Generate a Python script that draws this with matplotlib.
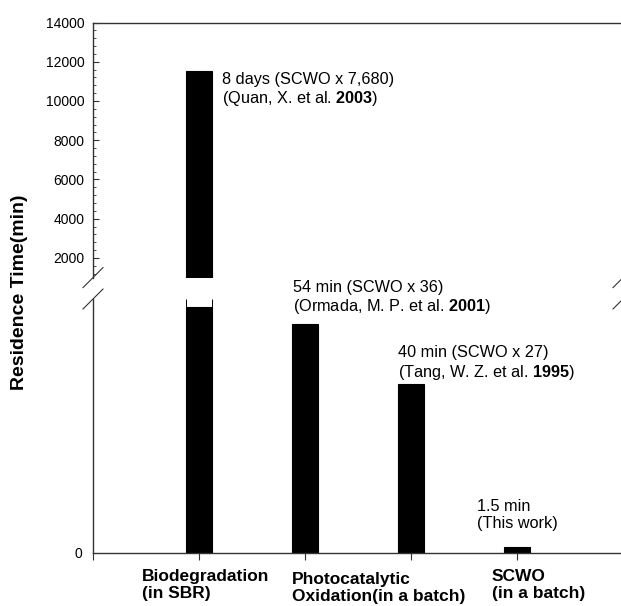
import matplotlib
matplotlib.use('Agg')
import matplotlib.pyplot as plt
import numpy as np

plt.rcParams['font.family'] = ['Liberation Sans', 'DejaVu Sans']
plt.rcParams['mathtext.fontset'] = 'custom'
plt.rcParams['mathtext.rm'] = 'Liberation Sans'
plt.rcParams['mathtext.bf'] = 'Liberation Sans:bold'

# data (residence time, min)
bar_pos = [1, 2, 3, 4]
times = [11520, 54, 40, 1.5]
notes = ['8 days (SCWO x 7,680)\n(Quan, X. et al. $\\mathbf{2003}$)',
         '54 min (SCWO x 36)\n(Ormada, M. P. et al. $\\mathbf{2001}$)',
         '40 min (SCWO x 27)\n(Tang, W. Z. et al. $\\mathbf{1995}$)',
         '1.5 min\n(This work)']
methods = ['Biodegradation\n(in SBR)', 'Photocatalytic\nOxidation(in a batch)', 'SCWO\n(in a batch)']

# layout stuff
method_x = [0.462, 1.877, 3.764]
method_dy = [-16, -19, -16]
note_va = ['top', 'bottom', 'bottom', 'bottom']
note_off = [(10, -1), (1, 8), (0, 2), (-27, 16)]
note_anchor = [1.125, 0.875, 0.875, 0.875]  # offset from bar centre (x units)

W, H = 621, 606
bw = 0.25
lo_top = 60
hi_lim = (1000, 14000)
spc = '#333333'

fig = plt.figure(figsize=(W/100, H/100), dpi=100)
ax_hi = fig.add_axes([93/W, 1-277.6/H, 530/W, (277.6-22.5)/H])
ax_lo = fig.add_axes([93/W, 53/H, 530/W, (553-299)/H])

# upper part
ax_hi.bar(bar_pos, times, width=bw, color='black', edgecolor='black', linewidth=0.8)
ax_hi.set_xlim(0, 5)
ax_hi.set_ylim(*hi_lim)
ax_hi.set_yticks(np.arange(2000, 14001, 2000))
ax_hi.set_yticks(np.arange(1200, 14000, 400), minor=True)
ax_hi.tick_params(axis='y', which='major', direction='in', length=4, width=0.8,
                  color=spc, labelsize=10, pad=6)
ax_hi.tick_params(axis='y', which='minor', direction='in', length=2.5, width=0.6, color=spc)
ax_hi.set_xticks([])
ax_hi.spines['right'].set_visible(False)
ax_hi.spines['bottom'].set_visible(False)
for s in ['top', 'left']:
    ax_hi.spines[s].set_color(spc)
    ax_hi.spines[s].set_linewidth(1.0)

# lower part - clipped bars leave a small gap under the break
lo_vals = [min(v, lo_top - 2) for v in times]
ax_lo.bar(bar_pos, lo_vals, width=bw, color='black', edgecolor='black', linewidth=0.8)
for p, v in zip(bar_pos, times):
    if v > lo_top:
        ax_lo.vlines([p - bw/2, p + bw/2], lo_top - 2, lo_top, color='black', linewidth=0.7)
ax_lo.set_xlim(0, 5)
ax_lo.set_ylim(0, lo_top)
ax_lo.set_yticks([0])
ax_lo.tick_params(axis='y', direction='in', length=0, labelsize=10, pad=8)
ax_lo.set_xticks([0, 1, 2, 3, 4])
ax_lo.set_xticklabels([])
ax_lo.tick_params(axis='x', direction='out', length=5, width=0.8, color=spc)
ax_lo.spines['right'].set_visible(False)
ax_lo.spines['top'].set_visible(False)
for s in ['bottom', 'left']:
    ax_lo.spines[s].set_color(spc)
    ax_lo.spines[s].set_linewidth(1.0)

# break marks
dx = 10/530
dy = 10/255
for xa in [0, 1]:
    ax_hi.plot([xa-dx, xa+dx], [-dy, dy], transform=ax_hi.transAxes, color=spc,
               linewidth=0.8, clip_on=False)
    ax_lo.plot([xa-dx, xa+dx], [1-dy, 1+dy], transform=ax_lo.transAxes, color=spc,
               linewidth=0.8, clip_on=False)

# notes over bars
for i in range(len(times)):
    ax = ax_hi if times[i] > hi_lim[0] else ax_lo
    ax.annotate(notes[i], xy=(bar_pos[i] - 1 + note_anchor[i], times[i]),
                xytext=note_off[i], textcoords='offset pixels',
                ha='left', va=note_va[i], fontsize=11.7, linespacing=1.16,
                annotation_clip=False)

# category labels
for i in range(len(methods)):
    ax_lo.annotate(methods[i], xy=(method_x[i], 0), xycoords=('data', 'axes fraction'),
                   xytext=(0, method_dy[i]), textcoords='offset pixels',
                   ha='left', va='top', fontsize=12.5, fontweight='bold',
                   linespacing=1.17, annotation_clip=False)

fig.text(20/W, 1-292/H, 'Residence Time(min)', rotation=90, ha='center', va='center',
         fontsize=14, fontweight='bold')

plt.savefig('out.png', dpi=100)
